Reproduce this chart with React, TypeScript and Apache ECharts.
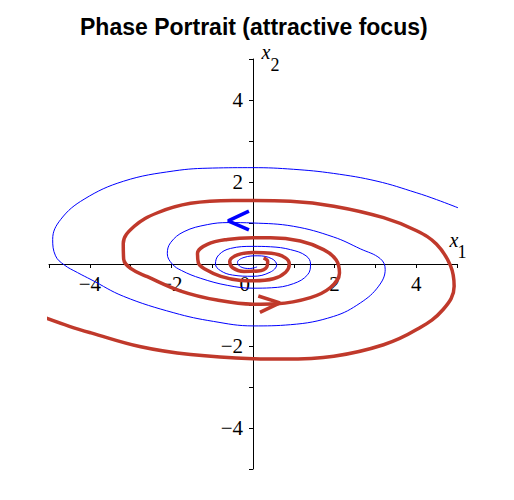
import React, { useEffect, useRef } from "react";
import * as echarts from "echarts";

const TITLE = "Phase Portrait (attractive focus)";
const AXIS_MIN = -5;
const AXIS_MAX = 5;
const TICK_STEP = 1;
const X_TICK_LABELS = [-4, -2, 0, 2, 4];
const Y_TICK_LABELS = [-4, -2, 2, 4];

// Trajectory starting at the right edge (blue, thin)
const blueCurve: [number, number][] = [
  [5.08, 1.35], [4.5, 1.57], [4.0, 1.74], [3.04, 2.02], [1.97, 2.21], [0.99, 2.31], [0.0, 2.35],
  [-0.99, 2.34], [-1.94, 2.27], [-3.17, 2.02], [-4.14, 1.58], [-4.71, 1.09], [-4.91, 0.6],
  [-4.84, 0.2], [-4.63, -0.02], [-4.3, -0.21], [-3.97, -0.38], [-3.17, -0.79], [-1.94, -1.19],
  [-0.97, -1.4], [0.0, -1.51], [0.92, -1.48], [1.97, -1.28], [2.63, -0.95], [3.08, -0.54],
  [3.24, -0.13], [3.12, 0.13], [2.63, 0.37], [1.97, 0.66], [0.99, 0.92], [0.0, 1.0], [-0.6, 1.01],
  [-1.12, 0.96], [-1.69, 0.79], [-2.02, 0.52], [-2.1, 0.25], [-1.98, 0.0], [-1.75, -0.16],
  [-1.28, -0.35], [-0.63, -0.52], [0.0, -0.59], [0.45, -0.58], [0.99, -0.48], [1.34, -0.26],
  [1.41, 0.0], [1.3, 0.2], [0.92, 0.35], [0.43, 0.42], [0.0, 0.43], [-0.55, 0.38], [-0.84, 0.22],
  [-0.92, 0.0], [-0.8, -0.16], [-0.5, -0.27], [0.0, -0.3], [0.42, -0.2], [0.58, -0.02], [0.46, 0.13],
  [0.12, 0.2], [-0.22, 0.16], [-0.38, 0.04], [-0.3, -0.07], [-0.08, -0.11], [0.1, -0.07],
];

// Trajectory starting at the left edge (red, thick)
const redCurve: [number, number][] = [
  [-5.07, -1.32], [-4.5, -1.52], [-3.97, -1.68], [-2.75, -2.02], [-1.53, -2.21], [0.0, -2.31],
  [0.75, -2.32], [1.98, -2.25], [3.2, -1.97], [4.01, -1.6], [4.66, -1.11], [4.93, -0.54],
  [4.84, -0.04], [4.5, 0.48], [4.01, 0.81], [3.2, 1.13], [1.98, 1.41], [0.92, 1.53], [0.0, 1.55],
  [-0.5, 1.55], [-1.53, 1.48], [-2.34, 1.25], [-2.91, 0.92], [-3.18, 0.5], [-3.17, 0.12],
  [-2.98, -0.12], [-2.59, -0.31], [-1.77, -0.66], [-0.88, -0.88], [0.0, -0.98], [0.59, -0.97],
  [1.41, -0.82], [1.89, -0.58], [2.12, -0.22], [2.04, 0.1], [1.73, 0.35], [1.16, 0.56], [0.43, 0.64],
  [0.0, 0.64], [-0.63, 0.6], [-1.12, 0.48], [-1.36, 0.26], [-1.34, 0.03], [-1.17, -0.13],
  [-0.79, -0.3], [-0.3, -0.4], [0.0, -0.41], [0.5, -0.36], [0.8, -0.2], [0.89, 0.0], [0.78, 0.16],
  [0.45, 0.26], [0.0, 0.28], [-0.38, 0.22], [-0.57, 0.06], [-0.5, -0.09], [-0.22, -0.18],
  [0.12, -0.17], [0.34, -0.07], [0.36, 0.06], [0.26, 0.15],
];

// Direction arrows (chevrons): arm, tip, arm
const blueArrow: [number, number][] = [[-0.1, 1.29], [-0.61, 1.05], [-0.1, 0.83]];
const redArrow: [number, number][] = [[0.13, -0.78], [0.66, -0.95], [0.17, -1.18]];

const BLUE = "#0000ff";
const RED = "#c0392b";
const SERIF = "Liberation Serif";

function fmt(v: number): string {
  return v < 0 ? "\u2212" + String(-v) : String(v);
}

const GRID = { left: 49, right: 57, top: 59, bottom: 31 };
const W = 514;
const H = 500;

export default function App() {
  const ref = useRef<HTMLDivElement>(null);
  useEffect(() => {
    if (!ref.current) return;
    const chart = echarts.init(ref.current, undefined, { renderer: "svg" });
    const plotW = W - GRID.left - GRID.right;
    const plotH = H - GRID.top - GRID.bottom;
    const axisCommon = {
      type: "value" as const,
      min: AXIS_MIN,
      max: AXIS_MAX,
      interval: TICK_STEP,
      splitLine: { show: false },
      axisLabel: { show: false },
      axisLine: { show: true, onZero: false, lineStyle: { color: "#000", width: 1 } },
      axisTick: { show: true, length: 4, lineStyle: { color: "#000", width: 1 } },
    };
    chart.setOption({
      animation: false,
      backgroundColor: "#fff",
      title: {
        text: TITLE,
        left: 80,
        top: 15,
        padding: 0,
        textStyle: { fontFamily: "Liberation Sans", fontWeight: "bold", fontSize: 23, color: "#000" },
      },
      grid: { ...GRID, containLabel: false },
      xAxis: {
        ...axisCommon,
        position: "bottom",
        offset: -plotH * (0 - AXIS_MIN) / (AXIS_MAX - AXIS_MIN),
      },
      yAxis: {
        ...axisCommon,
        position: "left",
        offset: -plotW * (0 - AXIS_MIN) / (AXIS_MAX - AXIS_MIN),
      },
      series: [
        {
          type: "line", data: blueCurve, smooth: 0.4, symbol: "none", clip: false,
          lineStyle: { color: BLUE, width: 1 }, z: 3,
        },
        {
          type: "line", data: redCurve, smooth: 0.4, symbol: "none", clip: false,
          lineStyle: { color: RED, width: 3.5 }, z: 4,
        },
        {
          type: "line", data: blueArrow, smooth: false, symbol: "none", clip: false,
          lineStyle: { color: BLUE, width: 3.5 }, z: 5,
        },
        {
          type: "line", data: redArrow, smooth: false, symbol: "none", clip: false,
          lineStyle: { color: RED, width: 3.5 }, z: 5,
        },
      ],
    });

    // Tick labels and axis names, positioned through the axes' own scales
    const toPx = (x: number, y: number) =>
      chart.convertToPixel({ gridIndex: 0 }, [x, y]) as number[];
    const labelFont = `21px ${SERIF}`;
    const texts: any[] = [];
    X_TICK_LABELS.forEach((v) => {
      const [px, py] = toPx(v, 0);
      texts.push({
        type: "text",
        x: v === 0 ? px - 3 : px,
        y: py + 20,
        style: {
          text: fmt(v), font: labelFont, fill: "#000",
          align: v === 0 ? "right" : "center", verticalAlign: "middle",
        },
      });
    });
    Y_TICK_LABELS.forEach((v) => {
      const [px, py] = toPx(0, v);
      texts.push({
        type: "text",
        x: px - 10,
        y: py,
        style: { text: fmt(v), font: labelFont, fill: "#000", align: "right", verticalAlign: "middle" },
      });
    });
    const [xe, ye] = toPx(AXIS_MAX, 0);
    const [xt, yt] = toPx(0, AXIS_MAX);
    texts.push(
      { type: "text", x: xe - 3, y: ye - 24, style: { text: "x", font: `italic 20px ${SERIF}`, fill: "#000", align: "center", verticalAlign: "middle" } },
      { type: "text", x: xe + 5, y: ye - 12, style: { text: "1", font: `18px ${SERIF}`, fill: "#000", align: "center", verticalAlign: "middle" } },
      { type: "text", x: xt + 13, y: yt - 7, style: { text: "x", font: `italic 20px ${SERIF}`, fill: "#000", align: "center", verticalAlign: "middle" } },
      { type: "text", x: xt + 22, y: yt + 6, style: { text: "2", font: `18px ${SERIF}`, fill: "#000", align: "center", verticalAlign: "middle" } },
    );
    chart.setOption({ graphic: texts });
    return () => chart.dispose();
  }, []);
  return <div ref={ref} style={{ position: "fixed", left: 0, top: 0, width: W, height: H }} />;
}
